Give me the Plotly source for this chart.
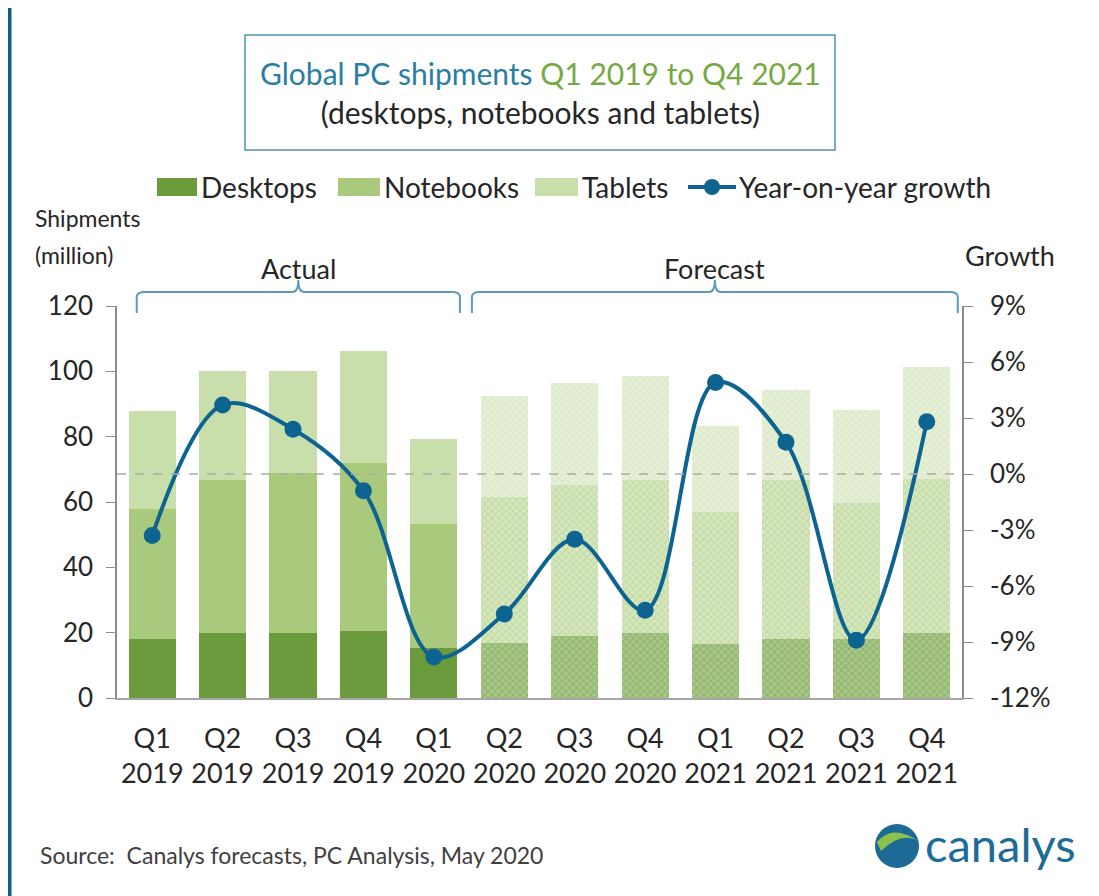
import plotly.graph_objects as go

# quarters and the actual / forecast split
quarters = ["Q1<br>2019", "Q2<br>2019", "Q3<br>2019", "Q4<br>2019", "Q1<br>2020",
            "Q2<br>2020", "Q3<br>2020", "Q4<br>2020", "Q1<br>2021", "Q2<br>2021",
            "Q3<br>2021", "Q4<br>2021"]
n_actual = 5

# shipments in millions
desktops = [18.0, 20.0, 20.0, 20.5, 15.4, 16.9, 19.0, 20.0, 16.4, 18.0, 18.0, 20.0]
notebooks = [40.0, 46.7, 48.8, 51.3, 38.0, 44.7, 46.2, 46.7, 40.6, 48.7, 41.6, 46.9]
tablets = [30.0, 33.5, 31.2, 34.4, 25.9, 30.9, 31.3, 31.9, 26.4, 27.6, 28.6, 34.3]

# year-on-year growth in %
growth = [-3.3, 3.7, 2.4, -0.9, -9.8, -7.5, -3.5, -7.3, 4.9, 1.7, -8.9, 2.8]

growth_ticks = [-12, -9, -6, -3, 0, 3, 6, 9]

FONT = "Lato"
TXT = "#262626"
LINE_BLUE = "#0e6490"

series = [
    ("Desktops", desktops, "#6c9b3d", "#a9c78a"),
    ("Notebooks", notebooks, "#a9c97c", "#d6e7bf"),
    ("Tablets", tablets, "#c9dfab", "#e6f0d9"),
]

xs = list(range(len(quarters)))
fig = go.Figure()

for name, vals, col, light in series:
    fig.add_trace(go.Bar(
        x=xs[:n_actual], y=vals[:n_actual], name=name,
        marker=dict(color=col, line=dict(width=0)),
        legendgroup=name, yaxis="y",
    ))
    fig.add_trace(go.Bar(
        x=xs[n_actual:], y=vals[n_actual:], name=name + " (forecast)",
        marker=dict(color=light, line=dict(width=0),
                    pattern=dict(shape="x", size=5, solidity=0.35,
                                 fgcolor=col, bgcolor=light, fillmode="overlay")),
        legendgroup=name, yaxis="y",
    ))

fig.add_trace(go.Scatter(
    x=xs, y=growth, name="Year-on-year growth", yaxis="y2",
    mode="lines+markers", line=dict(color=LINE_BLUE, width=4, shape="spline", smoothing=1.0),
    marker=dict(size=17, color=LINE_BLUE),
))

# page is offset by the 8px body margin; plot area in page pixels: x 117..962, y 306..698
W, H = 1099, 896
OFF = 8
L, R, T, B = 117, 962, 306, 698
pw, ph = R - L, B - T


def px(x):
    return (x - L) / pw


def py(y):
    return (B - y) / ph


shapes = []
# frame
shapes.append(dict(type="line", xref="paper", yref="paper", x0=px(9), x1=px(9), y0=py(4), y1=py(900),
                   line=dict(color="#0e5e86", width=5)))
shapes.append(dict(type="line", xref="paper", yref="paper", x0=px(9), x1=px(1105), y0=py(6), y1=py(6),
                   line=dict(color="#4f8796", width=2)))
# title box
shapes.append(dict(type="rect", xref="paper", yref="paper", x0=px(245), x1=px(835), y0=py(150), y1=py(35),
                   line=dict(color="#4d94b3", width=1.5)))
# zero growth line
shapes.append(dict(type="line", xref="paper", yref="y2", x0=0, x1=1, y0=0, y1=0, layer="above",
                   line=dict(color="#aaaaaa", width=1.5, dash="dash")))

# brackets for the actual / forecast periods
brackets = [("Actual", -0.22, 4.37), ("Forecast", 4.54, 11.44)]
y_end, y_top, y_nub = py(313), py(292), py(280)
for label, x0, x1 in brackets:
    xm = (x0 + x1) / 2
    path = (f"M {x0},{y_end} L {x0},{y_top - 0.012} Q {x0},{y_top} {x0 + 0.12},{y_top} "
            f"L {xm - 0.08},{y_top} Q {xm},{y_top} {xm},{y_nub} "
            f"Q {xm},{y_top} {xm + 0.08},{y_top} L {x1 - 0.12},{y_top} "
            f"Q {x1},{y_top} {x1},{y_top - 0.012} L {x1},{y_end}")
    shapes.append(dict(type="path", xref="x", yref="paper", path=path,
                       line=dict(color="#5e9bb8", width=2)))

annotations = []
for label, x0, x1 in brackets:
    annotations.append(dict(x=(x0 + x1) / 2, y=py(268), xref="x", yref="paper", text=label,
                            yanchor="middle", showarrow=False,
                            font=dict(size=27, color=TXT, family=FONT)))

# hand-drawn legend row (wide swatches like the original)
legend_items = [
    ("Desktops", series[0][2], 157, 197),
    ("Notebooks", series[1][2], 338, 380),
    ("Tablets", series[2][2], 535, 578),
]
for name, col, sx0, sx1 in legend_items:
    shapes.append(dict(type="rect", xref="paper", yref="paper", x0=px(sx0), x1=px(sx1),
                       y0=py(196), y1=py(178), fillcolor=col, line=dict(width=0)))
    annotations.append(dict(x=px(sx1 + 2), y=py(187), xref="paper", yref="paper", xanchor="left",
                            yanchor="middle", showarrow=False, text=name,
                            font=dict(size=28, color=TXT, family=FONT)))
shapes.append(dict(type="line", xref="paper", yref="paper", x0=px(688), x1=px(736), y0=py(187), y1=py(187),
                   line=dict(color=LINE_BLUE, width=4)))
shapes.append(dict(type="circle", xref="paper", yref="paper", x0=px(704), x1=px(720),
                   y0=py(195), y1=py(179), fillcolor=LINE_BLUE, line=dict(width=0)))
annotations.append(dict(x=px(737), y=py(187), xref="paper", yref="paper", xanchor="left",
                        yanchor="middle", showarrow=False, text="Year-on-year growth",
                        font=dict(size=28, color=TXT, family=FONT)))

# canalys logo globe
shapes.append(dict(type="circle", xref="paper", yref="paper",
                   x0=px(875), x1=px(919), y0=py(868), y1=py(824),
                   fillcolor="#1d6a96", line=dict(width=0)))
shapes.append(dict(type="path", xref="paper", yref="paper",
                   path=(f"M {px(877)},{py(842)} Q {px(892)},{py(824)} {px(917)},{py(840)} "
                         f"Q {px(900)},{py(832)} {px(881)},{py(851)} Z"),
                   fillcolor="#8dc04f", line=dict(width=0)))

annotations += [
    dict(x=px(540), y=py(92), xref="paper", yref="paper", showarrow=False, yanchor="middle",
         text=("<span style='color:#2b7ea3'>Global PC shipments</span> "
               "<span style='color:#76a843'>Q1 2019 to Q4 2021</span><br>"
               "(desktops, notebooks and tablets)"),
         font=dict(size=30, color=TXT, family=FONT)),
    dict(x=px(33), y=py(218), xref="paper", yref="paper", xanchor="left", yanchor="middle",
         showarrow=False, text="Shipments", font=dict(size=23, color=TXT, family=FONT)),
    dict(x=px(33), y=py(255), xref="paper", yref="paper", xanchor="left", yanchor="middle",
         showarrow=False, text="(million)", font=dict(size=23, color=TXT, family=FONT)),
    dict(x=px(1010), y=py(256), xref="paper", yref="paper", showarrow=False,
         xanchor="center", yanchor="middle",
         text="Growth", font=dict(size=27, color=TXT, family=FONT)),
    dict(x=px(38), y=py(855), xref="paper", yref="paper", xanchor="left", yanchor="middle",
         showarrow=False, text="Source:  Canalys forecasts, PC Analysis, May 2020",
         font=dict(size=23, color="#404040", family=FONT)),
    dict(x=px(923), y=py(844), xref="paper", yref="paper", xanchor="left", yanchor="middle",
         showarrow=False, text="canalys", font=dict(size=47, color="#1b6c97", family=FONT)),
]

fig.update_layout(
    width=W, height=H,
    margin=dict(l=L - OFF, r=W + OFF - R, t=T - OFF, b=H + OFF - B),
    paper_bgcolor="white", plot_bgcolor="white",
    barmode="stack", bargap=0.33,
    font=dict(family=FONT, size=22, color=TXT),
    showlegend=False,
    xaxis=dict(range=[-0.5, len(quarters) - 0.5], tickvals=xs, ticktext=quarters,
               showgrid=False, zeroline=False, showline=True, linecolor="#a6a6a6",
               linewidth=1.5, ticks="", ticklabelstandoff=16, tickfont=dict(size=27)),
    yaxis=dict(range=[0, 120], dtick=20, showgrid=False, zeroline=False, showline=True,
               linecolor="#8c8c8c", linewidth=1.5, ticks="outside", ticklen=9,
               tickcolor="#8c8c8c", ticklabelstandoff=8, tickfont=dict(size=26)),
    yaxis2=dict(range=[-12, 9], tickvals=growth_ticks,
                ticktext=[f"{v}%" for v in growth_ticks], overlaying="y", side="right",
                showgrid=False, zeroline=False, showline=True, linecolor="#8c8c8c",
                linewidth=1.5, ticks="outside", ticklen=9, tickcolor="#8c8c8c",
                ticklabelstandoff=12, tickfont=dict(size=26)),
    shapes=shapes,
    annotations=annotations,
)

fig.write_html("out.html")
